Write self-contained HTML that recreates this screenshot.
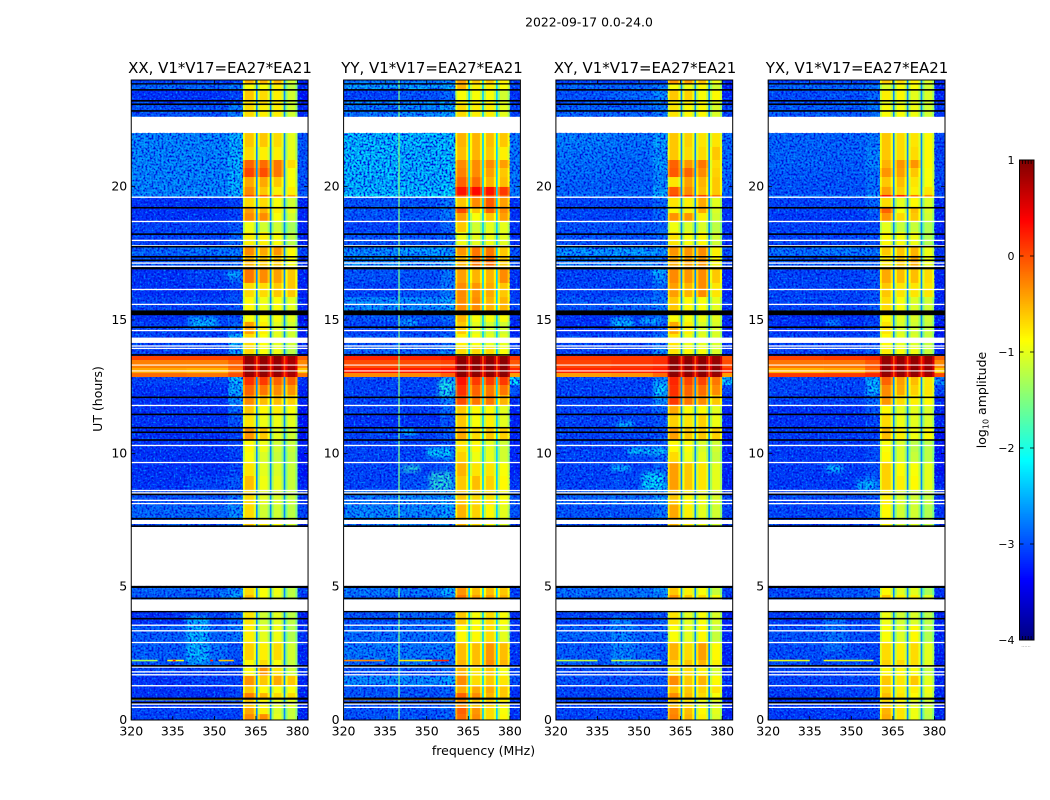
<!DOCTYPE html>
<html>
<head>
<meta charset="utf-8">
<title>2022-09-17 0.0-24.0</title>
<style>
html,body{margin:0;padding:0;background:#fff;width:1050px;height:800px;overflow:hidden}
svg{display:block}
text{font-family:"DejaVu Sans","Liberation Sans",sans-serif;fill:#000}
</style>
</head>
<body>
<svg id="figure" xmlns="http://www.w3.org/2000/svg" width="1050" height="800" viewBox="0 0 1050 800">
<defs>
<filter id="specksDark" x="0" y="0" width="100%" height="100%" color-interpolation-filters="sRGB">
<feTurbulence type="fractalNoise" baseFrequency="0.5" numOctaves="1" seed="3"/>
<feColorMatrix type="matrix" values="0 0 0 0 0  0 0 0 0 0.05  0 0 0 0 0.85  3.4 0 0 0 -1.4"/>
</filter>
<filter id="specksLight" x="0" y="0" width="100%" height="100%" color-interpolation-filters="sRGB">
<feTurbulence type="fractalNoise" baseFrequency="0.5" numOctaves="1" seed="11"/>
<feColorMatrix type="matrix" values="0 0 0 0 0  0 0 0 0 0.62  0 0 0 0 1  3.4 0 0 0 -1.85"/>
</filter>
<filter id="soft" x="-30%" y="-60%" width="160%" height="220%"><feGaussianBlur stdDeviation="2"/></filter>
</defs>
<text x="589" y="26.5" font-size="12.4" text-anchor="middle">2022-09-17 0.0-24.0</text>
<text x="220" y="73" font-size="14.95" text-anchor="middle">XX, V1*V17=EA27*EA21</text>
<text x="432" y="73" font-size="14.95" text-anchor="middle">YY, V1*V17=EA27*EA21</text>
<text x="645" y="73" font-size="14.95" text-anchor="middle">XY, V1*V17=EA27*EA21</text>
<text x="857" y="73" font-size="14.95" text-anchor="middle">YX, V1*V17=EA27*EA21</text>
<text x="483.5" y="755" font-size="12.5" text-anchor="middle">frequency (MHz)</text>
<text transform="translate(102,399) rotate(-90)" font-size="12.5" text-anchor="middle">UT (hours)</text>
<text transform="translate(986,400) rotate(-90)" font-size="12.5" text-anchor="middle">log<tspan font-size="8" dy="2.5">10</tspan><tspan dy="-2.5"> amplitude</tspan></text>
<text x="1026" y="647" font-size="5" text-anchor="middle" style="fill:#777">......</text>
<g id="plots"></g>
</svg>
<script>
// Axis extents and tick labels
const xTickValues = [320, 335, 350, 365, 380];
const yTickValues = [0, 5, 10, 15, 20];
const colorbarTicks = [1, 0, -1, -2, -3, -4];
const panelNames = ['xx', 'yy', 'xy', 'yx'];

// Frequency column edges (MHz)
const freqEdges = [320, 340, 355, 360.3, 361, 364.2, 365, 365.6, 366.4, 369.2, 370, 370.6, 371.4, 374.2, 375, 375.6, 376.4, 379.2, 380, 383.8];
// Which amplitude column feeds each frequency column (-1 = notch)
const columnOf = [0, 1, 2, 3, 3, 3, -1, 4, 4, 4, -1, 5, 5, 5, -1, 6, 6, 6, 7];
// Roll-off at the edges of each sub-band (log10)
const rollOff = [0, 0, 0, -.35, 0, -.3, 0, -.35, 0, -.3, 0, -.35, 0, -.3, 0, -.35, 0, -.3, 0];

// Time row edges (UT hours, top to bottom)
const timeEdges = [24, 23.85, 23.63, 23.25, 23.06, 22.61, 22.01, 21.49, 21, 20.7, 20.36, 19.99, 19.69, 19.61, 19.24, 19.01, 18.71, 18.3, 17.78, 17.44, 16.95, 16.39, 15.86, 15.34, 14.93, 14.48, 13.99, 13.65, 13.5, 13.2, 13.01, 12.86, 12.56, 12.19, 11.81, 11.44, 10.95, 10.5, 10.05, 9.68, 9.15, 8.63, 8.06, 7.54, 7.24, 5.03, 4.69, 4.5, 4.09, 3.56, 2.93, 2.25, 1.99, 1.65, 1.28, 1.01, .79, .49, .22, 0];

// Amplitudes, log10. Each row: bgLow, bgMid, bgHigh, band1, band2, band3, band4, edge
const ampXX = [
[-3,-3,-3,-.5,-.5,-.5,-1.1,-3.2],
[-2.8,-2.8,-2.7,-.9,-.9,-.8,-1.2,-3.2],
[-3.1,-3.1,-3,-.6,-.7,-.8,-1.1,-3.3],
[-3,-3,-2.9,-.7,-.7,-.8,-1.1,-3.2],
[-2.9,-2.9,-2.7,-.7,-.8,-.8,-1.1,-3.2],
null,
[-2.6,-2.6,-2.4,-.6,-.6,-.7,-1,-2.9],
[-2.6,-2.6,-2.4,-.7,-.8,-.8,-1,-2.9],
[-2.6,-2.6,-2.4,-.1,-.15,-.2,-.7,-2.9],
[-2.6,-2.6,-2.4,.05,0,-.2,-.9,-2.9],
[-2.6,-2.6,-2.4,-.45,-.45,-.6,-.9,-2.9],
[-2.6,-2.6,-2.4,-.3,-.6,-.8,-.8,-2.9],
[-2.6,-2.6,-2.4,0,-.1,-.2,-.4,-2.9],
[-3.1,-3.1,-3,-.7,-.7,-.9,-1.1,-3.2],
[-3.1,-3.1,-3,-.4,-.5,-.8,-1,-3.2],
[-3.1,-3.1,-3,-.3,-.3,-.9,-1.1,-3.2],
[-3,-3,-2.9,-.95,-1.1,-1.1,-1.3,-3.2],
[-3,-3,-2.8,-.8,-.8,-.9,-1.2,-3.2],
[-2.8,-2.7,-2.7,-.3,-.45,-.35,-.85,-3],
[-2.9,-2.9,-2.8,-.5,-.6,-.6,-.9,-3.1],
[-3.1,-3,-2.8,-.2,-.3,-.4,-.6,-3.2],
[-3.1,-3.1,-3,-.7,-.7,-.6,-.6,-3.2],
[-3,-3,-2.9,-.85,-.95,-.9,-1,-3.2],
[-3.1,-3,-2.9,-.9,-.9,-.9,-1,-3.3],
[-3,-3,-2.8,-.4,-.8,-1,-1.1,-3.2],
[-3,-3,-2.4,-.7,-.9,-1,-1.1,-3.2],
[-3,-3,-2.5,-.7,-.9,-.95,-1.2,-3.2],
[.05,.05,.1,.95,.95,.95,.85,-.1],
[-.25,-.25,-.1,.9,.9,.9,.8,-.3],
[-.45,-.5,-.2,.95,.95,.95,.85,-.6],
[-.15,-.2,0,.9,.9,.9,.8,-.2],
[-3,-3,-2.35,.15,.1,-.1,-.1,-3.1],
[-3.1,-3.1,-2.45,-.1,-.2,-.3,-.35,-3.2],
[-3.1,-3.1,-2.6,-.3,-.55,-.55,-.65,-3.2],
[-3.1,-3.1,-2.8,-.6,-.85,-.8,-.9,-3.3],
[-3.1,-3.1,-2.9,-.75,-.95,-.95,-1,-3.3],
[-3.1,-3.1,-3,-.35,-.6,-1,-1.1,-3.3],
[-3.1,-3.1,-3,-.85,-.95,-1.1,-1.15,-3.2],
[-3.1,-3.1,-3,-.9,-1.05,-1.15,-1.2,-3.3],
[-3.1,-3.1,-3,-.75,-1,-1.05,-1.15,-3.3],
[-3.1,-3,-2.9,-.55,-.95,-1,-1.15,-3.2],
[-2.9,-2.9,-2.7,-.7,-1,-1.05,-1.15,-3.1],
[-2.8,-2.8,-2.6,-.7,-1.1,-1.1,-1.2,-3],
[-2.9,-2.9,-2.8,-.6,-.8,-.9,-1.1,-3.1],
null,
[-2.8,-2.8,-2.6,-.7,-.9,-.95,-1.2,-3],
[-2.9,-2.9,-2.7,-.55,-.9,-1,-1.2,-3.1],
null,
[-3.1,-3,-2.8,-.75,-1.1,-1,-1.2,-3.2],
[-2.85,-2.8,-2.7,-.8,-1,-.95,-1.25,-3.1],
[-2.85,-2.75,-2.9,-.65,-.8,-.7,-1.1,-3.2],
[-2.9,-2.8,-3,-.85,-.7,-.9,-1.15,-3.2],
[-3,-3,-3,-.85,-.35,-.75,-1.1,-3.1],
[-3.1,-3,-3,-.35,-.6,-.45,-.6,-3.2],
[-3.1,-3.1,-3,-.6,-.85,-.9,-.9,-3.2],
[-3.1,-3.1,-3,-.25,-.5,-.7,-.7,-3.2],
[-3.1,-3.1,-3,-.6,-.85,-1,-1,-3.2],
[-3,-3,-3,-.45,-.8,-1.05,-1.15,-3.2],
[-3,-3,-3,-.3,-.3,-1,-1.15,-3.2]
];
const ampYY = [
[-2.7,-2.7,-2.6,-.4,-.6,-.6,-.8,-3],
[-2.5,-2.5,-2.4,-.5,-.8,-.8,-.9,-3],
[-3,-2.9,-2.8,-.9,-.9,-.9,-1.1,-3.1],
[-2.6,-2.6,-2.5,-.8,-.85,-.85,-1,-3],
[-2.7,-2.6,-2.5,-.7,-.8,-.8,-1,-3],
null,
[-2.3,-2.3,-2.25,-.5,-.5,-.55,-.6,-2.7],
[-2.3,-2.35,-2.3,-.55,-.5,-.6,-.8,-2.7],
[-2.3,-2.35,-2.3,-.3,-.3,-.3,-.4,-2.7],
[-2.3,-2.35,-2.3,-.25,-.3,-.4,-.6,-2.7],
[-2.35,-2.35,-2.3,-.1,-.15,-.5,-.55,-2.7],
[-2.3,-2.3,-2.2,.3,.35,.3,.1,-2.7],
[-2.1,-2.1,-2,0,0,0,-.1,-2.7],
[-2.9,-2.9,-2.7,-.6,-.3,-.05,-.4,-3.1],
[-2.9,-2.9,-2.7,0,-.6,-.1,-.3,-3.1],
[-2.9,-2.9,-2.7,-.4,-.9,-.6,-.4,-3.1],
[-3,-3,-2.8,-.6,-1.1,-1,-1,-3.1],
[-2.9,-2.9,-2.8,-.95,-1,-.95,-1,-3.1],
[-2.6,-2.5,-2.5,-.35,-.2,-.2,-.6,-2.9],
[-2.6,-2.6,-2.5,-.5,-.2,-.15,-.6,-2.9],
[-2.9,-2.9,-2.7,-.4,-.5,-.5,-.3,-3.1],
[-3,-2.9,-2.7,-.3,-.35,-.45,-.6,-3.1],
[-2.6,-2.6,-2.5,-.3,-.3,-.5,-.5,-3],
[-2.9,-2.9,-2.8,-.5,-.9,-.9,-.9,-3.1],
[-3,-3,-2.9,-.6,-1,-1.1,-1.1,-3.2],
[-2.9,-2.9,-2.8,-.8,-.9,-1,-1,-3.1],
[-2.8,-2.8,-2.6,-.7,-.7,-.7,-.9,-3],
[.2,.2,.25,.95,.95,.95,.95,.1],
[0,0,.05,.95,.95,.95,.95,-.05],
[.25,.25,.3,.95,.95,.95,.95,.2],
[-.3,-.3,-.1,.95,.95,.95,.95,-.4],
[-3,-3,-2.6,.3,.1,.1,.1,-2.2],
[-3,-3,-2.6,.15,-.1,-.2,-.2,-2.9],
[-3,-3,-2.7,0,-.2,-.2,-.5,-3.1],
[-3,-3,-2.8,-.6,-.85,-.85,-1,-3.2],
[-3.1,-3.1,-2.9,-.6,-.9,-.8,-1,-3.2],
[-3,-3,-2.9,-.45,-.7,-.6,-.65,-3.2],
[-3,-3,-2.9,-.75,-.85,-1,-1.1,-3.2],
[-3,-3,-2.8,-.65,-.95,-1,-1.1,-3.2],
[-3,-3,-2.9,-.5,-.75,-.75,-.9,-3.2],
[-3,-2.9,-2.7,-.6,-.55,-.65,-.85,-3.1],
[-2.7,-2.6,-2.5,-.6,-.7,-.75,-.9,-2.9],
[-2.6,-2.6,-2.5,-.5,-.65,-.85,-1,-2.9],
[-2.7,-2.7,-2.6,-.5,-.7,-.9,-1.05,-3],
null,
[-2.7,-2.7,-2.4,-.35,-.55,-.55,-.6,-3],
[-2.8,-2.8,-2.6,-.2,-.4,-.4,-.5,-3],
null,
[-2.9,-2.8,-2.8,-.6,-.9,-.7,-.9,-3.1],
[-2.75,-2.75,-2.75,-.85,-.85,-.7,-1,-3.1],
[-2.7,-2.7,-2.7,-.55,-.55,-.35,-.55,-3.1],
[-2.8,-2.7,-2.8,-.5,-.55,-.3,-.5,-3.1],
[-2.9,-2.9,-2.8,-.5,-.75,-.6,-.9,-3],
[-2.6,-2.6,-2.5,-.3,-.7,-.6,-.75,-2.9],
[-2.9,-2.9,-2.8,-.45,-.45,-.45,-.6,-3.1],
[-2.9,-2.9,-2.9,-.1,-.3,-.5,-.6,-3.1],
[-2.9,-2.9,-2.8,-.3,-.6,-.65,-.8,-3.1],
[-2.9,-2.9,-2.8,-.1,-.35,-.7,-.9,-3.1],
[-2.9,-2.9,-2.8,-.15,-.3,-.7,-.85,-3.1],
[-2.9,-2.9,-2.8,-.25,-.65,-.8,-.95,-3.1]
];
const ampXY = [
[-3,-3,-3,-.35,-.4,-.55,-.95,-3.2],
[-2.8,-2.8,-2.7,-.9,-.95,-.85,-1.1,-3.2],
[-2.9,-2.8,-2.6,-.6,-.65,-.9,-.85,-3.2],
[-2.9,-2.9,-2.7,-.8,-.8,-.85,-1,-3.1],
[-2.8,-2.8,-2.7,-.75,-.85,-.85,-1.05,-3],
null,
[-2.65,-2.7,-2.5,-.6,-.65,-.75,-.75,-2.8],
[-2.7,-2.75,-2.55,-.6,-.7,-.7,-.6,-2.8],
[-2.75,-2.8,-2.5,-.1,-.35,-.2,-.7,-2.8],
[-2.75,-2.8,-2.6,-.05,-.1,-.3,-.65,-2.8],
[-2.8,-2.85,-2.6,-.75,-.4,-.5,-.6,-2.8],
[-2.8,-2.8,-2.5,-.05,-.3,-.55,-.6,-2.8],
[-2.7,-2.7,-2.3,.1,.15,.05,-.2,-2.8],
[-3,-3,-2.8,-.75,-.8,-.45,-1,-3.1],
[-3,-3,-2.8,-.85,-.8,-.45,-1.05,-3.1],
[-3,-3,-2.8,-.35,-.35,-.8,-1.1,-3.1],
[-2.9,-2.9,-2.8,-.95,-1.05,-1.05,-1.2,-3.1],
[-2.9,-2.9,-2.8,-.75,-.9,-.85,-1.1,-3.1],
[-2.55,-2.5,-2.55,-.35,-.35,-.3,-.8,-2.9],
[-2.7,-2.7,-2.7,-.45,-.4,-.35,-.85,-3],
[-3,-2.95,-2.6,-.3,-.35,-.3,-.6,-3.2],
[-3,-3,-2.8,-.4,-.5,-.3,-.75,-3.2],
[-2.9,-2.8,-2.7,-.6,-.85,-.9,-1,-3.1],
[-3.1,-3.1,-2.9,-.9,-.9,-.95,-1,-3.2],
[-3.1,-3,-2.9,-.45,-.8,-1.05,-1.05,-3.2],
[-3,-3,-2.75,-.75,-.95,-1,-1.05,-3.1],
[-3,-3,-2.6,-.75,-.85,-.9,-1.05,-3.1],
[.1,.1,.15,.95,.95,.95,.9,-.05],
[.05,.1,.15,.95,.95,.95,.9,0],
[.2,.2,.25,.95,.95,.95,.95,.15],
[-.4,-.35,-.15,.95,.95,.95,.9,-.4],
[-3,-3,-2.6,.2,.05,.05,-.2,-2.3],
[-3,-3,-2.6,.15,-.1,-.15,-.3,-3],
[-3,-3,-2.6,.1,-.2,-.3,-.6,-3.1],
[-3,-3,-2.8,-.45,-.85,-.85,-1,-3.2],
[-3,-3,-2.9,-.65,-.75,-.65,-.95,-3.2],
[-3,-3,-2.9,-.4,-.6,-.6,-.65,-3.2],
[-3,-3,-2.9,-.85,-.9,-1.05,-1.1,-3.2],
[-3,-3,-2.85,-.7,-.95,-1,-1.15,-3.2],
[-3,-3,-2.85,-.4,-.6,-.75,-1,-3.2],
[-3,-2.95,-2.7,-.4,-.6,-.75,-1,-3.2],
[-2.8,-2.75,-2.55,-.6,-.85,-.95,-1.05,-3],
[-2.9,-2.9,-2.75,-.45,-.8,-1,-1.1,-3],
[-2.9,-2.9,-2.8,-.5,-.8,-.95,-1.1,-3],
null,
[-2.75,-2.7,-2.55,-.6,-.8,-.9,-1.15,-3],
[-2.8,-2.75,-2.65,-.35,-.6,-.7,-.9,-3],
null,
[-3,-3,-2.85,-.75,-1,-.9,-1.05,-3.2],
[-2.8,-2.8,-2.8,-.9,-1,-.85,-1.15,-3.2],
[-2.85,-2.8,-2.9,-.5,-.7,-.4,-.85,-3.2],
[-2.85,-2.85,-2.95,-.65,-.6,-.5,-.8,-3.2],
[-2.95,-2.95,-2.95,-.75,-.7,-.8,-1.05,-3.2],
[-2.9,-2.9,-2.9,-.3,-.6,-.5,-.85,-3.1],
[-3,-3,-2.95,-.55,-.6,-.65,-.75,-3.2],
[-3,-3,-3,-.3,-.55,-.7,-.9,-3.2],
[-3,-3,-3,-.55,-.75,-.95,-1,-3.2],
[-3,-3,-3,-.3,-.55,-.85,-1,-3.2],
[-3,-3,-3,-.25,-.5,-.8,-1.05,-3.2],
[-3,-3,-3,-.45,-.6,-.85,-1.1,-3.2]
];
const ampYX = [
[-3,-3,-3,-.6,-.7,-.8,-1.05,-3.2],
[-2.8,-2.8,-2.7,-1.05,-.9,-.9,-1.1,-3.2],
[-2.95,-2.9,-2.8,-.8,-.85,-1,-1.05,-3.2],
[-2.95,-2.9,-2.8,-1,-1,-1,-1.1,-3.2],
[-2.85,-2.85,-2.7,-.9,-.9,-.95,-1.1,-3.1],
null,
[-2.8,-2.8,-2.7,-.6,-.7,-.75,-.85,-3],
[-2.8,-2.8,-2.65,-.6,-.7,-.7,-.85,-3],
[-2.8,-2.85,-2.65,-.5,-.35,-.35,-.85,-3],
[-2.85,-2.85,-2.75,-.35,-.4,-.6,-.9,-3],
[-2.9,-2.9,-2.75,-.6,-.55,-.75,-.9,-3],
[-2.9,-2.9,-2.75,-.4,-.65,-.8,-.75,-3],
[-2.7,-2.7,-2.4,.25,.2,-.2,-.3,-2.9],
[-3,-3,-2.8,-.7,-1,-.85,-1.05,-3.2],
[-3,-3,-2.85,-.1,-.9,-.55,-1.05,-3.2],
[-3.05,-3.05,-2.9,-.35,-.7,-.6,-1.1,-3.2],
[-3,-3,-2.95,-1,-1.15,-1.15,-1.25,-3.2],
[-3,-3,-2.95,-.85,-.9,-.95,-1.25,-3.2],
[-2.75,-2.7,-2.7,-.6,-.6,-.5,-.95,-3.1],
[-2.85,-2.85,-2.85,-.75,-.6,-.45,-.95,-3.1],
[-3,-3,-2.9,-.45,-.55,-.55,-.7,-3.2],
[-3,-3,-2.95,-.6,-.75,-.75,-.75,-3.2],
[-3,-3,-2.9,-.7,-.9,-1.05,-1.1,-3.2],
[-3.1,-3.1,-3,-.85,-1,-1.05,-1.1,-3.2],
[-3.1,-3.1,-3,-.75,-1.05,-1.1,-1.15,-3.3],
[-3,-3,-2.95,-.85,-1,-1.05,-1.15,-3.2],
[-3,-3,-2.85,-.8,-.9,-.95,-1.15,-3.2],
[.05,.1,.15,.95,.95,.95,.9,-.1],
[-.2,-.2,-.05,.9,.9,.9,.85,-.3],
[-.5,-.45,-.15,.95,.95,.95,.9,-.6],
[.1,.1,.2,.9,.9,.9,.85,0],
[-3,-3,-2.6,-.1,-.4,-.55,-.75,-2.6],
[-3,-3,-2.7,-.3,-.45,-.65,-.75,-3],
[-3,-3,-2.8,-.35,-.7,-.8,-.85,-3.2],
[-3.1,-3.1,-2.9,-.85,-1,-1,-1.05,-3.2],
[-3.1,-3.1,-3,-.7,-.95,-1,-1.05,-3.2],
[-3.05,-3.05,-3,-.55,-.8,-.95,-.85,-3.3],
[-3.05,-3.05,-3,-.9,-1.05,-1.2,-1.2,-3.3],
[-3.05,-3.05,-2.95,-.85,-1.05,-1.15,-1.2,-3.3],
[-3.05,-3.05,-2.95,-.65,-.85,-.9,-1,-3.3],
[-3.05,-3.05,-2.85,-.65,-.8,-.85,-1,-3.2],
[-2.95,-2.95,-2.85,-.8,-1.05,-1.1,-1.15,-3.1],
[-3,-3,-2.9,-.85,-1.1,-1.1,-1.25,-3.1],
[-3,-3,-2.95,-.85,-1.1,-1.05,-1.2,-3.1],
null,
[-2.95,-2.9,-2.8,-.85,-1,-1,-1.3,-3.1],
[-2.95,-2.9,-2.85,-.6,-.8,-.8,-1,-3.1],
null,
[-3.05,-3,-2.95,-.95,-1.1,-1.05,-1.2,-3.2],
[-2.9,-2.9,-2.95,-.9,-1.05,-.85,-1.25,-3.2],
[-2.95,-2.95,-3,-.7,-.8,-.7,-1,-3.2],
[-2.95,-2.95,-3,-.65,-.7,-.7,-1,-3.2],
[-3,-3,-3,-.85,-.85,-.9,-1.15,-3.2],
[-3,-3,-3,-.6,-.75,-.6,-1,-3.2],
[-3.05,-3,-3,-.65,-.8,-.8,-.95,-3.2],
[-3.05,-3.05,-3,-.55,-.75,-.85,-1,-3.2],
[-3.05,-3.05,-3,-.7,-.85,-1,-1.1,-3.2],
[-3.05,-3.05,-3,-.5,-.75,-.95,-1.15,-3.2],
[-3.05,-3.05,-3,-.45,-.75,-.95,-1.2,-3.2],
[-3.05,-3.05,-3,-.55,-.8,-1,-1.2,-3.2]
];
const amplitudes = [ampXX, ampYY, ampXY, ampYX];

// Notch value between sub-bands per panel (log10), and during the strong burst
const notchLevels = [-2.7, -2.35, -2.7, -2.7];
const burstNotchLevel = 0;
const burstRange = [13.65, 12.86];

// Flagged time ranges shown blank: [start hour, end hour]
const blankRanges = [[22.62,22.02],[19.63,19.58],[18.72,18.67],[18.01,17.96],[17.81,17.76],[17.16,17.11],[17.04,16.99],[16.17,16.12],[15.61,15.56],[14.63,14.58],[14.34,14.14],[14.05,14],[13.96,13.91],[13.33,13.29],[13.11,13.07],[11.82,11.77],[10.32,10.27],[9.68,9.63],[8.63,8.58],[8.54,8.49],[8.26,8.21],[8.14,8.09],[7.5,7.35],[7.24,5.03],[4.52,4.09],[3.58,3.53],[3.37,3.32],[2.93,2.88],[2.01,1.96],[1.83,1.78],[1.72,1.67],[1.31,1.26],[.62,.57],[.5,.45]];

// Flagged time ranges with zero amplitude, drawn black
const blackRanges = [[23.88,23.83],[23.66,23.6],[23.25,23.19],[23.12,23.06],[22.87,22.81],[19.24,19.18],[18.25,18.19],[17.78,17.72],[17.4,17.34],[17.27,17.21],[16.98,16.9],[15.36,15.18],[14.76,14.7],[13.72,13.66],[12.13,12.07],[11.49,11.43],[10.99,10.93],[10.82,10.76],[10.53,10.47],[8.49,8.43],[7.58,7.52],[7.3,7.24],[5.03,4.95],[4.59,4.53],[4.09,4.04],[3.83,3.77],[2.06,2],[.84,.76],[.68,.62]];

// Time spans carrying receiver-noise grain (the strong burst around 13 UT is smooth)
const grainSpans = [[24, 13.66], [12.86, 0]];

// Diffuse emission patches: [panel, f0, f1, t0, t1, log10 amplitude]
const patches = [
[0,340,348,3.9,2.1,-2.3],[0,341,351,15.1,14.7,-2.3],[0,354.6,359,16.8,16.6,-2.3],[0,352,360,4.7,4.5,-2.4],
[1,341,346.5,15,14.8,-2.2],[1,350,359,10.2,9.85,-2.1],[1,341,347.5,9.55,9.3,-1.9],[1,351,359,9.3,8.6,-1.9],[1,341,346,10.9,10.7,-2.1],[1,354,360,12.75,12.1,-2],
[2,340,348,15.1,14.7,-2.3],[2,350.3,358,15.1,14.85,-2.3],[2,355.7,360,12.6,12.1,-2.2],[2,342,348,11.2,10.95,-2.3],[2,346,359.5,10.2,9.95,-2.1],[2,340,347,9.55,9.35,-2.2],[2,351,359,9.3,8.6,-2.1],[2,340,348,3.9,2.1,-2.6],[2,354.7,359,16.9,16.7,-2.3],
[3,341,346,15,14.8,-2.5],[3,341,347,9.55,9.3,-2.2],[3,352,359,9,8.6,-2.3],[3,356,360,12.75,12.2,-2.3],[3,340,348,3.9,2.5,-2.7]
];

// Narrow interference lines: [panel, f0, f1, t0, t1, log10 amplitude]
const interference = [
[1,339.7,340.3,24,0,-1.5],
[0,320,329.5,2.26,2.2,-1.3],[0,333,339,2.26,2.2,-.9],[0,335,336,2.26,2.2,.2],[0,351.5,357,2.26,2.2,-.6],[0,348.5,349.5,2.26,2.2,.2],
[1,320,335,2.26,2.2,-.3],[1,340,352,2.26,2.2,-.8],[1,352,358,2.26,2.2,.2],[1,320,360,.79,.74,-.5],
[2,320,335,2.26,2.2,-1.2],[2,340,358,2.26,2.2,-1.2],
[3,320,335,2.26,2.2,-1],[3,340,358,2.26,2.2,-1],
[0,320,360,.79,.74,-1]
];

// Axes geometry
const NS = 'http://www.w3.org/2000/svg';
const panelLefts = [131.25, 343.6, 555.9, 768.2];
const panelWidth = 176.8;
const plotTop = 80, plotBottom = 720;
const freqMin = 320, freqMax = 383.8, timeMin = 0, timeMax = 24;
const colorMin = -4, colorMax = 1;
const cbLeft = 1019.5, cbRight = 1034, cbTop = 160, cbBottom = 640;

function xScale(panel, f) { return panelLefts[panel] + (f - freqMin) / (freqMax - freqMin) * panelWidth; }
function yScale(t) { return plotBottom - (t - timeMin) / (timeMax - timeMin) * (plotBottom - plotTop); }
function cbScale(v) { return cbBottom - (v - colorMin) / (colorMax - colorMin) * (cbBottom - cbTop); }

function jetPart(v) { return Math.max(0, Math.min(1, v)); }
function jet(level) {
  const v = jetPart((level - colorMin) / (colorMax - colorMin));
  const r = jetPart(Math.min(4 * v - 1.5, -4 * v + 4.5));
  const g = jetPart(Math.min(4 * v - 0.5, -4 * v + 3.5));
  const b = jetPart(Math.min(4 * v + 0.5, -4 * v + 2.5));
  return 'rgb(' + Math.round(r * 255) + ',' + Math.round(g * 255) + ',' + Math.round(b * 255) + ')';
}
function shape(tag, attrs, parent) {
  const el = document.createElementNS(NS, tag);
  for (const k in attrs) el.setAttribute(k, attrs[k]);
  parent.appendChild(el);
  return el;
}

const plots = document.getElementById('plots');

panelNames.forEach(function (name, p) {
  const g = shape('g', {}, plots);
  
  
  const clip = shape('clipPath', { id: 'clip-' + name }, g);
  shape('rect', { x: xScale(p, freqMin), y: plotTop, width: panelWidth, height: plotBottom - plotTop }, clip);
  const body = shape('g', { 'clip-path': 'url(#clip-' + name + ')' }, g);

  // Heatmap cells
  amplitudes[p].forEach(function (row, r) {
    if (!row) return;
    const y0 = yScale(timeEdges[r]), y1 = yScale(timeEdges[r + 1]);
    const inBurst = timeEdges[r] <= burstRange[0] && timeEdges[r + 1] >= burstRange[1];
    columnOf.forEach(function (c, i) {
      const notch = inBurst ? burstNotchLevel : notchLevels[p];
      const level = c < 0 ? notch : row[c] + rollOff[i];
      const x0 = xScale(p, freqEdges[i]), x1 = xScale(p, freqEdges[i + 1]);
      const cell = shape('rect', { x: x0, y: y0, width: x1 - x0 + .3, height: y1 - y0 + .3, fill: jet(level) }, body);
      
      
    });
  });

  // Diffuse patches
  patches.filter(function (d) { return d[0] === p; }).forEach(function (d) {
    const patch = shape('rect', { x: xScale(p, d[1]), y: yScale(d[3]), width: xScale(p, d[2]) - xScale(p, d[1]), height: yScale(d[4]) - yScale(d[3]), fill: jet(d[5]), filter: 'url(#soft)', opacity: .85 }, body);
    
    
  });

  // Grain over the off-band background regions, outside the burst
  [[freqMin, 360.3], [380, freqMax]].forEach(function (span) {
    grainSpans.forEach(function (ts) {
      ['specksDark', 'specksLight'].forEach(function (f) {
        const grain = shape('rect', { x: xScale(p, span[0]), y: yScale(ts[0]), width: xScale(p, span[1]) - xScale(p, span[0]), height: yScale(ts[1]) - yScale(ts[0]), fill: '#000', filter: 'url(#' + f + ')' }, body);
        
        
      });
    });
  });

  // Interference lines
  interference.filter(function (d) { return d[0] === p; }).forEach(function (d) {
    const line = shape('rect', { x: xScale(p, d[1]), y: yScale(d[3]), width: xScale(p, d[2]) - xScale(p, d[1]), height: yScale(d[4]) - yScale(d[3]), fill: jet(d[5]), opacity: d[3] === timeMax ? .75 : 1 }, body);
    
    
  });

  // Flagged rows
  blankRanges.forEach(function (d) {
    const gap = shape('rect', { x: xScale(p, freqMin), y: yScale(d[0]), width: panelWidth, height: yScale(d[1]) - yScale(d[0]), fill: '#fff' }, body);
    
    
  });
  blackRanges.forEach(function (d) {
    const bar = shape('rect', { x: xScale(p, freqMin), y: yScale(d[0]), width: panelWidth, height: yScale(d[1]) - yScale(d[0]), fill: '#000' }, body);
    
    
  });

  // Frame
  const frame = shape('rect', { x: xScale(p, freqMin), y: plotTop, width: panelWidth, height: plotBottom - plotTop, fill: 'none', stroke: '#000', 'stroke-width': 1 }, g);
  
  

  // X ticks
  xTickValues.forEach(function (v) {
    const x = xScale(p, v);
    const t1 = shape('line', { x1: x, x2: x, y1: plotBottom, y2: plotBottom - 4, stroke: '#000', 'stroke-width': .8 }, g);
    
    
    const t2 = shape('line', { x1: x, x2: x, y1: plotTop, y2: plotTop + 4, stroke: '#000', 'stroke-width': .8 }, g);
    
    
    const label = shape('text', { x: x, y: 735.5, 'font-size': 12.5, 'text-anchor': 'middle' }, g);
    
    
    label.textContent = v;
  });

  // Y ticks
  yTickValues.forEach(function (v) {
    const y = yScale(v);
    const x0 = xScale(p, freqMin), x1 = x0 + panelWidth;
    const t1 = shape('line', { x1: x0, x2: x0 + 4, y1: y, y2: y, stroke: '#000', 'stroke-width': .8 }, g);
    
    
    const t2 = shape('line', { x1: x1, x2: x1 - 4, y1: y, y2: y, stroke: '#000', 'stroke-width': .8 }, g);
    
    
    const label = shape('text', { x: x0 - 4, y: y + 4, 'font-size': 12.5, 'text-anchor': 'end' }, g);
    
    
    label.textContent = v;
  });
});

// Colorbar
const cb = shape('g', {}, plots);


const cbSteps = 240;
for (let i = 0; i < cbSteps; i++) {
  const v0 = colorMin + (colorMax - colorMin) * i / cbSteps;
  const v1 = colorMin + (colorMax - colorMin) * (i + 1) / cbSteps;
  const seg = shape('rect', { x: cbLeft, y: cbScale(v1), width: cbRight - cbLeft, height: cbScale(v0) - cbScale(v1) + .3, fill: jet((v0 + v1) / 2) }, cb);
  
  
}
const cbFrame = shape('rect', { x: cbLeft, y: cbTop, width: cbRight - cbLeft, height: cbBottom - cbTop, fill: 'none', stroke: '#000', 'stroke-width': 1 }, cb);


colorbarTicks.forEach(function (v) {
  const y = cbScale(v);
  const a = shape('line', { x1: cbLeft, x2: cbLeft + 4, y1: y, y2: y, stroke: '#000', 'stroke-width': .8 }, cb);
  
  
  const b = shape('line', { x1: cbRight, x2: cbRight - 4, y1: y, y2: y, stroke: '#000', 'stroke-width': .8 }, cb);
  
  
  const label = shape('text', { x: cbLeft - 5, y: y + 4, 'font-size': 11, 'text-anchor': 'end' }, cb);
  
  
  label.textContent = String(v).replace('-', '\u2212');
});
[0.2, 0.4, 0.6, 0.8].forEach(function (frac) {
  const x = cbLeft + (cbRight - cbLeft) * frac;
  [[cbTop, cbTop + 4], [cbBottom, cbBottom - 4]].forEach(function (s) {
    const m = shape('line', { x1: x, x2: x, y1: s[0], y2: s[1], stroke: '#000', 'stroke-width': .8 }, cb);
    
    
  });
});
</script>
</body>
</html>
